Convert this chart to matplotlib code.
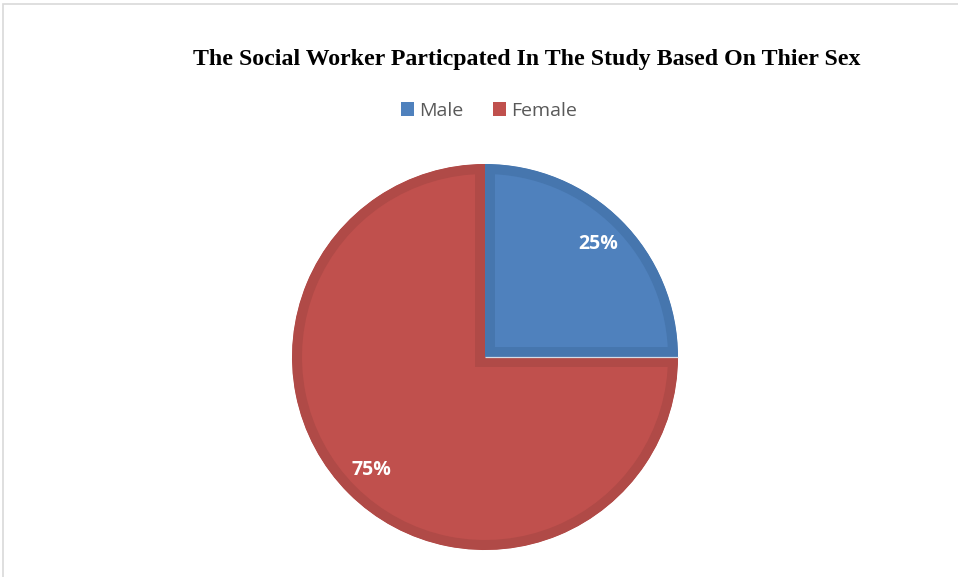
import matplotlib.pyplot as plt
from matplotlib.patches import Rectangle

labels = ["Male", "Female"]
shares = [25, 75]
fills = ["#4F81BD", "#C0504D"]
borders = ["#4676AE", "#B04A47"]

W, H = 958, 577
fig = plt.figure(figsize=(W / 100, H / 100), dpi=100)
ax = fig.add_axes([0, 0, 1, 1])

# pie centre / radius in pixels (y from bottom)
cx, cy, r = 485, H - 357, 193
wedges, texts, autotexts = ax.pie(
    shares, colors=fills, startangle=90, counterclock=False,
    center=(cx, cy), radius=r, autopct="%d%%", pctdistance=0.83,
    wedgeprops=dict(linewidth=0),
    textprops=dict(color="white", fontsize=14, fontweight="bold", family="Open Sans"))

ax.set_xlim(0, W)
ax.set_ylim(0, H)
ax.set_aspect("equal")
ax.axis("off")

# darker inner rim on each slice (stroke clipped to the slice itself)
for w, bc in zip(wedges, borders):
    w.set_edgecolor(bc)
    w.set_linewidth(14.4)
    w.set_clip_on(True)
    w.set_clip_path(w)

# faint light seam where the Male slice ends (at 0 degrees)
ax.plot([cx, cx + r], [cy, cy], color="#D6DCE6", linewidth=0.9, solid_capstyle="butt")

# thin light-grey chart frame
fig.patches.append(Rectangle((3 / W, -0.1), 1.2, (H - 4) / H + 0.1, transform=fig.transFigure,
                             fill=False, edgecolor="#D9D9D9", linewidth=1.2))

fig.text(527 / W, 1 - 60 / H, "The Social Worker Particpated In The Study Based On Thier Sex",
         ha="center", va="center", fontsize=17.2, fontweight="bold", family="Liberation Serif",
         color="black")

leg = fig.legend(wedges, labels, loc="center", bbox_to_anchor=(489 / W, 1 - 111 / H), ncol=2,
                 frameon=False, handlelength=0.7, handleheight=0.7, handletextpad=0.25,
                 columnspacing=1.5, prop=dict(family="Open Sans", size=14))
for t in leg.get_texts():
    t.set_color("#595959")
for h, c in zip(leg.legend_handles, fills):
    h.set_edgecolor("none")
    h.set_facecolor(c)
    h.set_clip_path(None)

fig.savefig("out.png", dpi=100)
